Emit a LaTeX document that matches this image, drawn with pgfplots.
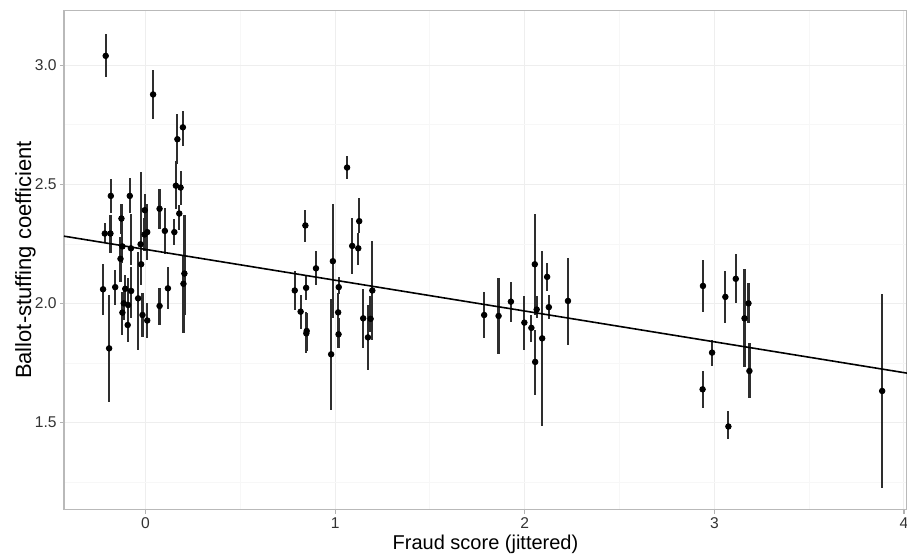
\documentclass[border=0pt]{standalone}
\usepackage{fontspec}
\setmainfont{Liberation Sans}
\usepackage{pgfplots}
\pgfplotsset{compat=1.18}
\usepackage{pgfplotstable}

% estimate, lower and upper end of each interval
\pgfplotstableread{
x      y      lo     hi
-0.210 3.040  2.950  3.130
0.040  2.878  2.776  2.980
0.168  2.690  2.585  2.795
0.197  2.740  2.660  2.810
0.160  2.495  2.395  2.597
0.185  2.487  2.415  2.555
0.178  2.378  2.310  2.415
0.205  2.126  1.950  2.370
0.200  2.083  1.878  2.200
0.152  2.300  2.247  2.354
0.102  2.305  2.207  2.400
0.074  2.398  2.312  2.480
0.118  2.064  1.978  2.153
0.074  1.990  1.910  2.064
0.009  2.300  2.185  2.416
-0.004 2.392  2.300  2.460
-0.005 2.290  2.220  2.360
-0.026 2.249  2.079  2.552
-0.023 2.165  2.085  2.232
-0.039 2.022  1.805  2.218
-0.016 1.952  1.861  2.043
0.009  1.929  1.854  2.001
-0.083 2.452  2.379  2.526
-0.077 2.232  2.164  2.374
-0.076 2.053  1.938  2.155
-0.092 1.994  1.882  2.106
-0.094 1.910  1.840  1.994
-0.107 2.062  1.994  2.120
-0.115 2.001  1.930  2.070
-0.122 1.962  1.870  2.050
-0.122 2.240  2.169  2.300
-0.127 2.357  2.290  2.420
-0.132 2.188  2.090  2.280
-0.160 2.069  1.994  2.140
-0.183 2.452  2.379  2.524
-0.185 2.294  2.211  2.373
-0.215 2.294  2.253  2.337
-0.224 2.060  1.952  2.167
-0.192 1.812  1.588  2.036
1.063  2.571  2.524  2.618
0.843  2.328  2.260  2.394
1.127  2.346  2.295  2.442
1.122  2.232  2.163  2.295
1.090  2.242  2.123  2.358
0.988  2.178  1.938  2.417
0.899  2.148  2.076  2.221
0.787  2.055  1.971  2.137
0.847  2.066  2.015  2.118
0.818  1.966  1.894  2.036
0.848  1.875  1.791  1.963
0.850  1.885  1.800  1.960
0.979  1.787  1.553  2.020
1.019  2.069  2.040  2.110
1.016  1.963  1.896  2.043
1.018  1.871  1.812  1.938
1.148  1.938  1.815  2.062
1.173  1.858  1.721  1.994
1.187  1.936  1.880  2.030
1.196  2.055  1.847  2.263
1.786  1.952  1.854  2.047
1.862  1.948  1.787  2.109
1.927  2.008  1.924  2.092
1.998  1.920  1.805  2.032
2.035  1.898  1.840  1.952
2.053  2.165  1.952  2.375
2.055  1.755  1.616  1.889
2.063  1.975  1.940  2.030
2.092  1.854  1.487  2.221
2.118  2.112  2.053  2.172
2.127  1.985  1.936  2.034
2.228  2.011  1.826  2.193
2.940  2.074  1.966  2.184
2.988  1.794  1.739  1.847
2.938  1.640  1.560  1.718
3.058  2.028  1.917  2.137
3.113  2.104  2.001  2.207
3.180  2.001  1.917  2.085
3.159  1.938  1.733  2.146
3.185  1.717  1.602  1.833
3.074  1.484  1.430  1.550
3.885  1.633  1.224  2.041
}\fraud

\begin{document}
\begin{tikzpicture}
\begin{axis}[
    scale only axis,
    width=421.5pt, height=249.5pt,
    xmin=-0.43, xmax=4.016,
    ymin=1.135, ymax=3.23,
    xtick={0,1,2,3,4},
    ytick={1.5,2.0,2.5,3.0},
    yticklabels={1.5,2.0,2.5,3.0},
    minor xtick={-0.5,0.5,1.5,2.5,3.5},
    minor ytick={1.25,1.75,2.25,2.75},
    grid=both,
    major grid style={gray!13, line width=0.5pt},
    minor grid style={gray!6, line width=0.5pt},
    axis line style={gray!55, line width=0.6pt},
    tick align=outside, tick pos=left,
    major tick length=2pt, minor tick length=0pt,
    every tick/.style={gray!60, line width=0.6pt},
    tick label style={font=\fontsize{7.8}{9}\selectfont, text=black!80},
    xticklabel style={inner sep=0pt, anchor=north, yshift=-2pt},
    yticklabel style={inner sep=0pt, anchor=east, xshift=-1.5pt},
    /pgf/number format/assume math mode=true,
    xlabel={Fraud score (jittered)},
    ylabel={Ballot-stuffing coefficient},
    xlabel style={font=\fontsize{10}{12}\selectfont, at={(axis description cs:0.5,-0.08)}, anchor=base, inner sep=0pt},
    ylabel style={font=\fontsize{11}{13}\selectfont, at={(axis description cs:-0.039,0.5)}, anchor=base, inner sep=0pt},
]
\addplot[only marks, mark=*, mark size=1.4pt, black,
    error bars/.cd, y dir=both, y explicit, error mark=none,
    error bar style={line width=1.1pt, black!82}]
    table[x=x, y=y,
          y error plus expr=\thisrow{hi}-\thisrow{y},
          y error minus expr=\thisrow{y}-\thisrow{lo}] {\fraud};

% fitted line
\addplot[black, line width=0.8pt] coordinates {(-0.43,2.283) (4.016,1.708)};

\coordinate (bl) at (rel axis cs:0,0);
\coordinate (tr) at (rel axis cs:1,1);
\end{axis}
\pgfresetboundingbox
\path ([shift={(-32pt,-22pt)}]bl) rectangle ([shift={(0pt,5.3pt)}]tr);
\end{tikzpicture}
\end{document}
